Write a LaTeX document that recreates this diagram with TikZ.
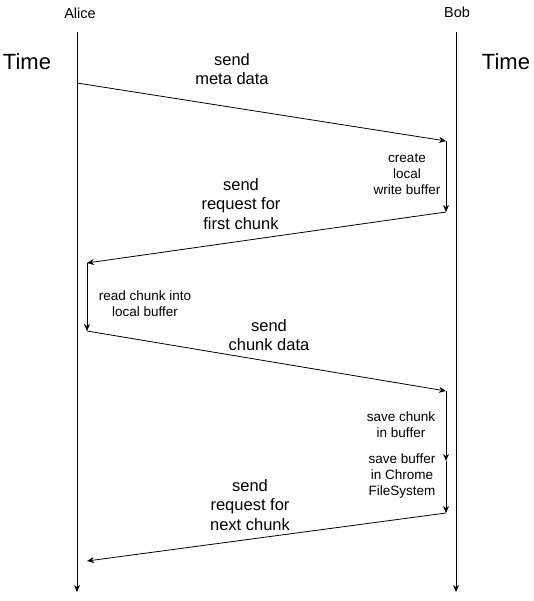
\documentclass[tikz,border=0pt]{standalone}
\usepackage{fontspec}
\setmainfont{Liberation Sans}
\usetikzlibrary{arrows.meta}
\tikzset{
  msg/.style={draw=black, line width=0.8pt, -{Stealth[length=7pt,width=6pt]}},
  biglabel/.style={align=center, font=\fontsize{16.5}{19.5}\selectfont},
  smalllabel/.style={align=center, font=\fontsize{13.5}{16}\selectfont},
  namelabel/.style={font=\fontsize{14.5}{16}\selectfont},
  timelabel/.style={font=\fontsize{22}{26}\selectfont}
}
\begin{document}
\begin{tikzpicture}[x=1pt,y=-1pt]
\pgfmathsetmacro\alicex{77}
\pgfmathsetmacro\bobx{456}
\pgfmathsetmacro\alicein{87}
\pgfmathsetmacro\bobin{446}
\useasboundingbox (0,0) rectangle (534,601);
\node[namelabel] (alice) at (80,13) {Alice};
\node[namelabel] (bob) at (457,12) {Bob};
\node[timelabel] (timeleft) at (27,62) {Time};
\node[timelabel] (timeright) at (506,62) {Time};
\coordinate (alicetop) at (\alicex,32);
\coordinate (aliceend) at (\alicex,592);
\coordinate (bobtop) at (\bobx,32);
\coordinate (bobend) at (\bobx,592);
\draw[msg] (alicetop) -- (aliceend);
\draw[msg] (bobtop) -- (bobend);
\coordinate (m0) at (\alicex,83);
\coordinate (m1) at (\bobin,141);
\coordinate (m2) at (\bobin,212);
\coordinate (m3) at (\alicein,263);
\coordinate (m4) at (\alicein,331);
\coordinate (m5) at (\bobin,391);
\coordinate (m6) at (\bobin,461);
\coordinate (m7) at (\bobin,513);
\coordinate (m8) at (\alicein,561);
\foreach \a/\b in {0/1,1/2,2/3,3/4,4/5,5/6,6/7,7/8} \draw[msg] (m\a) -- (m\b);
\node[biglabel] (metadata) at (232,69) {send\\meta data};
\node[smalllabel] (createbuf) at (407,174) {create\\local\\write buffer};
\node[biglabel] (reqfirst) at (241,204) {send\\request for\\first chunk};
\node[smalllabel] (readchunk) at (145,304) {read chunk into\\local buffer};
\node[biglabel] (chunkdata) at (269,335) {send\\chunk data};
\node[smalllabel] (savechunk) at (401,425) {save chunk\\in buffer};
\node[smalllabel] (savefs) at (402,476) {save buffer\\in Chrome\\FileSystem};
\node[biglabel] (reqnext) at (250,505) {send\\request for\\next chunk};
\end{tikzpicture}
\end{document}
